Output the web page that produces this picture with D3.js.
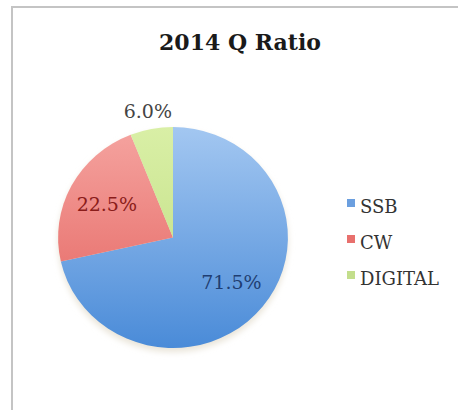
<!DOCTYPE html>
<html>
<head>
<meta charset="utf-8">
<script src="https://cdn.jsdelivr.net/npm/d3@7"></script>
<style>
  html, body { margin: 0; padding: 0; background: #fff; }
  svg { display: block; }
  text { font-family: "DejaVu Serif", "Liberation Serif", serif; }
</style>
</head>
<body>
<svg id="chart"></svg>
<script>
// data
const title = "2014 Q Ratio";
const categories = ["SSB", "CW", "DIGITAL"];
const values = [71.5, 22.5, 6.0];
const labels = ["71.5%", "22.5%", "6.0%"];

const width = 458, height = 410;
const cx = 173, cy = 237.5, radius = 110.5, stretch = 1.04;

// colours: light top / dark bottom for each slice
const colorTop = ["#a3c7f1", "#f5a4a0", "#d9efa6"];
const colorBottom = ["#4a8bd8", "#e35f5b", "#bddc7e"];
const labelColor = ["#1f3e72", "#8a1c1a", "#444444"];
const legendColor = ["#6b9fdf", "#e8706d", "#c3de8c"];

const svg = d3.select("#chart")
    .attr("width", width)
    .attr("height", height);

// chart frame
svg.append("rect")
    .attr("x", 12).attr("y", 7)
    .attr("width", 470).attr("height", 420)
    .attr("fill", "#fff")
    .attr("stroke", "#c4c4c4")
    .attr("stroke-width", 2);

const defs = svg.append("defs");
colorTop.forEach(function (c, i) {
    const grad = defs.append("linearGradient")
        .attr("id", "grad" + i)
        .attr("gradientUnits", "userSpaceOnUse")
        .attr("x1", 0).attr("y1", -radius)
        .attr("x2", 0).attr("y2", radius);
    grad.append("stop").attr("offset", "0%").attr("stop-color", c);
    grad.append("stop").attr("offset", "100%").attr("stop-color", colorBottom[i]);
});

const blur = defs.append("filter").attr("id", "shadow")
    .attr("x", "-20%").attr("y", "-20%").attr("width", "140%").attr("height", "140%");
blur.append("feGaussianBlur").attr("stdDeviation", 3);

// title
svg.append("text")
    .attr("x", 240).attr("y", 50)
    .attr("text-anchor", "middle")
    .attr("font-size", "22px")
    .attr("font-weight", "bold")
    .attr("fill", "#1a1a1a")
    .text(title);

const pie = d3.pie()
    .value(function (d) { return d; })
    .sort(null);

const arcs = pie(values);

const arc = d3.arc()
    .innerRadius(0)
    .outerRadius(radius);

// soft shadow under the pie
svg.append("ellipse")
    .attr("cx", cx).attr("cy", cy + 4)
    .attr("rx", radius * stretch).attr("ry", radius)
    .attr("fill", "#e9e4d8")
    .attr("filter", "url(#shadow)");

const g = svg.append("g")
    .attr("transform", "translate(" + cx + "," + cy + ") scale(" + stretch + ",1)");

g.selectAll("path")
    .data(arcs)
    .enter().append("path")
    .attr("d", arc)
    .attr("fill", function (d, i) { return "url(#grad" + i + ")"; });

// slice labels
const labelRadius = [72, 72, 129];
const gl = svg.append("g")
    .attr("transform", "translate(" + cx + "," + cy + ")");

gl.selectAll("text")
    .data(arcs)
    .enter().append("text")
    .attr("transform", function (d, i) {
        const c = d3.arc().innerRadius(labelRadius[i]).outerRadius(labelRadius[i]).centroid(d);
        return "translate(" + (c[0] * stretch) + "," + c[1] + ")";
    })
    .attr("text-anchor", "middle")
    .attr("dy", "0.36em")
    .attr("font-size", "19px")
    .attr("fill", function (d, i) { return labelColor[i]; })
    .text(function (d, i) { return labels[i]; });

// legend
const legendY = d3.scaleBand()
    .domain(categories)
    .range([189, 297]);

const legend = svg.append("g").selectAll("g")
    .data(categories)
    .enter().append("g")
    .attr("transform", function (d) {
        return "translate(347," + (legendY(d) + legendY.bandwidth() / 2) + ")";
    });

legend.append("rect")
    .attr("x", 0).attr("y", -8)
    .attr("width", 8).attr("height", 8)
    .attr("fill", function (d, i) { return legendColor[i]; });

legend.append("text")
    .attr("x", 13)
    .attr("dy", "0.36em")
    .attr("font-size", "18px")
    .attr("fill", "#333")
    .text(function (d) { return d; });
</script>
</body>
</html>
